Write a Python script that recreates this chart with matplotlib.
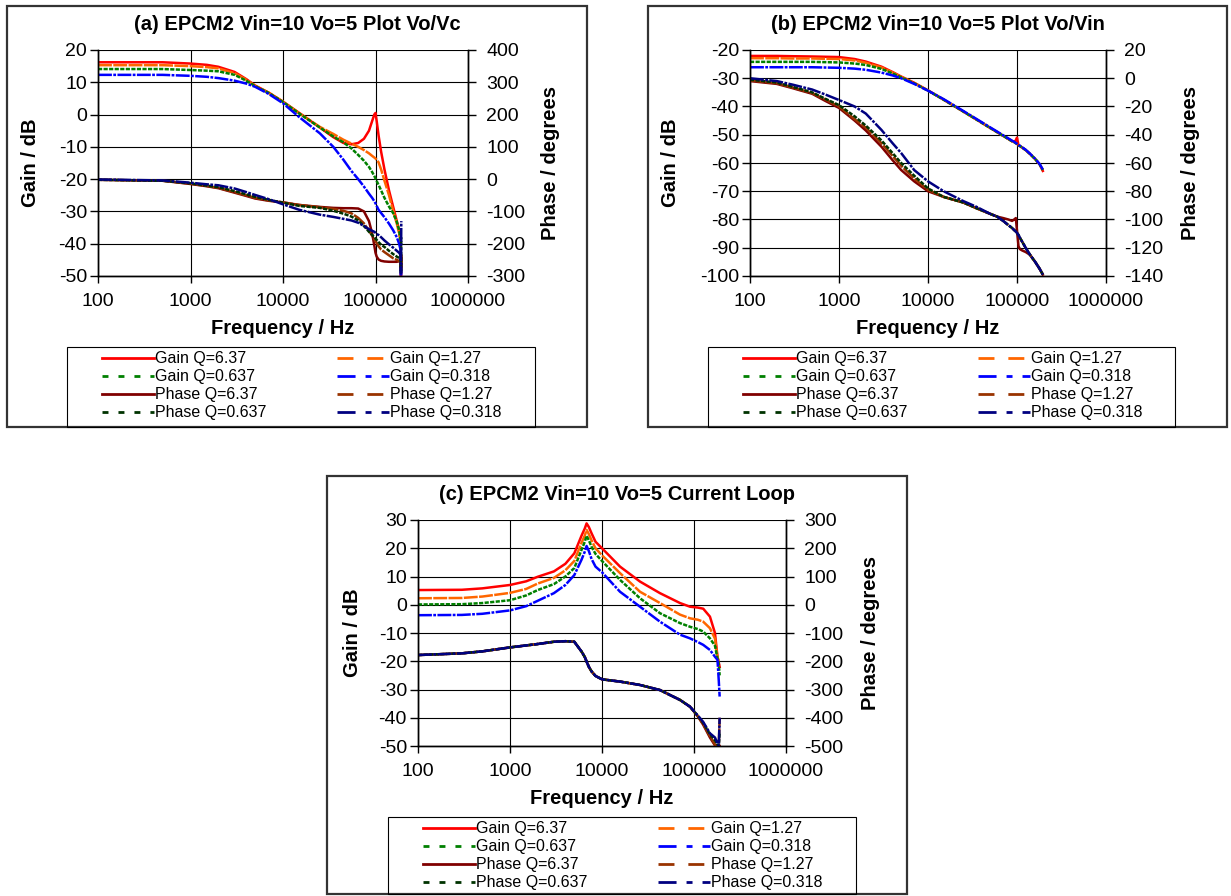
import matplotlib
matplotlib.use('Agg')
import matplotlib.pyplot as plt
from matplotlib.lines import Line2D
from matplotlib.patches import Rectangle
from matplotlib.ticker import NullLocator

plt.rcParams['font.family'] = ['Liberation Sans', 'DejaVu Sans']
plt.rcParams['lines.scale_dashes'] = False
plt.rcParams['axes.unicode_minus'] = False

# ---------------- data ----------------
series_labels = ['Gain Q=6.37', 'Gain Q=1.27', 'Gain Q=0.637', 'Gain Q=0.318',
                 'Phase Q=6.37', 'Phase Q=1.27', 'Phase Q=0.637', 'Phase Q=0.318']
x_ticks = [100, 1000, 10000, 100000, 1000000]
x_ticklabels = ['100', '1000', '10000', '100000', '1000000']

# Panel (a) Vo/Vc
freq_a = [100, 500, 1000, 1500, 2000, 3000, 4000, 5000, 7000, 10000, 15000, 25000, 35000,
          45000, 55000, 65000, 75000, 85000, 92000, 97000, 100000, 103000, 108000, 115000,
          125000, 140000, 155000, 170000, 180000, 187000, 188500, 190000]
gain_a_637 = [16.2, 16.2, 15.8, 15.4, 14.8, 13.2, 11.0, 9.0, 6.8, 4.0, 0.5, -4.0, -7.0, -8.8,
              -9.2, -8.8, -7.5, -5.0, -2.0, 0.0, 0.5, -2.0, -6.5, -11.5, -17.0, -23.5, -28.5,
              -33.0, -35.8, -38.8, -50.0, -45.0]
gain_a_127 = [15.3, 15.3, 15.0, 14.7, 14.3, 12.8, 10.8, 8.9, 6.8, 4.0, 0.4, -3.8, -6.0, -7.8,
              -9.0, -10.0, -11.0, -12.0, -12.8, -13.3, -13.6, -14.0, -14.8, -17.0, -20.5, -25.0,
              -29.8, -33.8, -36.8, -39.5, -48.0, -44.0]
gain_a_0637 = [14.1, 14.1, 13.8, 13.6, 13.4, 12.3, 10.5, 8.8, 6.7, 3.9, 0.3, -4.0, -6.8, -8.6,
               -10.5, -12.5, -14.3, -16.2, -17.8, -19.0, -19.8, -20.6, -21.8, -23.5, -25.8,
               -28.5, -30.5, -33.2, -35.8, -39.0, -49.0, -44.0]
gain_a_0318 = [12.3, 12.3, 12.0, 11.7, 11.3, 10.5, 9.6, 8.6, 6.4, 3.5, -0.8, -5.8, -10.0, -14.0,
               -17.5, -20.0, -22.3, -24.5, -25.8, -26.8, -27.5, -28.3, -29.5, -30.5, -31.8,
               -33.8, -35.8, -38.0, -40.0, -42.0, -50.0, -46.0]
phase_a_637 = [-2, -5, -15, -22, -28, -42, -52, -60, -67, -72, -80, -86, -89, -90, -90, -91,
               -100, -130, -168, -205, -228, -240, -249, -253, -255, -256, -256, -256, -254,
               -250, -275, -240]
phase_a_127 = [-2, -5, -14, -21, -27, -40, -50, -58, -66, -72, -80, -87, -92, -98, -106, -120,
               -137, -160, -175, -186, -192, -198, -208, -218, -226, -236, -245, -250, -254,
               -258, -280, -230]
phase_a_0637 = [-2, -5, -13, -20, -25, -37, -47, -55, -64, -73, -83, -89, -98, -107, -116, -128,
                -145, -163, -173, -180, -184, -188, -195, -203, -210, -222, -232, -240, -244,
                -248, -285, -180]
phase_a_0318 = [-1, -4, -11, -16, -19, -29, -40, -49, -62, -78, -95, -110, -117, -123, -128,
                -135, -145, -155, -160, -163, -166, -170, -173, -180, -190, -202, -212, -222,
                -228, -235, -292, -130]

# Panel (b) Vo/Vin
freq_b = [100, 200, 300, 500, 700, 1000, 1500, 2000, 3000, 4000, 5000, 7000, 10000, 15000,
          25000, 35000, 50000, 60000, 70000, 80000, 88000, 93000, 97000, 100000, 104000,
          108000, 115000, 125000, 140000, 160000, 180000, 195000]
gain_b_637 = [-22.1, -22.1, -22.2, -22.3, -22.4, -22.5, -23.2, -24.1, -25.9, -27.8, -29.4,
              -31.6, -34.3, -37.6, -41.8, -44.6, -47.6, -49.1, -50.4, -51.5, -52.3, -52.4,
              -52.0, -51.0, -53.8, -54.0, -54.6, -55.4, -56.8, -58.6, -60.5, -62.8]
gain_b_127 = [-22.9, -22.9, -23.0, -23.0, -23.1, -23.2, -23.7, -24.5, -26.2, -28.0, -29.5,
              -31.7, -34.3, -37.6, -41.8, -44.6, -47.6, -49.1, -50.4, -51.5, -52.3, -52.6,
              -53.0, -53.3, -53.8, -54.0, -54.6, -55.4, -56.8, -58.6, -60.5, -62.5]
gain_b_0637 = [-24.2, -24.2, -24.2, -24.2, -24.3, -24.4, -24.8, -25.3, -26.7, -28.3, -29.7,
               -31.8, -34.4, -37.6, -41.8, -44.6, -47.6, -49.1, -50.4, -51.5, -52.3, -52.6,
               -53.0, -53.3, -53.8, -54.0, -54.6, -55.4, -56.8, -58.6, -60.5, -62.5]
gain_b_0318 = [-26.1, -26.1, -26.1, -26.1, -26.2, -26.3, -26.6, -27.0, -28.0, -29.0, -30.0,
               -32.0, -34.4, -37.4, -41.6, -44.4, -47.4, -48.9, -50.2, -51.3, -52.1, -52.5,
               -52.9, -53.2, -53.7, -53.9, -54.5, -55.3, -56.7, -58.5, -60.4, -62.3]
phase_b_637 = [-2, -4, -7, -11, -16, -21, -30, -37, -48.5, -58, -65, -73, -80, -84, -88, -92,
               -96, -98, -99, -100, -101, -100, -99, -108, -119, -121, -122, -123, -125, -130,
               -135, -139]
phase_b_127 = [-1.5, -3.5, -6.5, -10.5, -15, -20, -29, -35, -46, -55, -62, -71, -79, -84, -88,
               -92, -96, -98, -101, -104, -106, -107.5, -108.5, -109.5, -111, -113, -116, -120,
               -125, -130, -135, -139]
phase_b_0637 = [-1, -3, -6, -10, -14.5, -19, -27, -33.5, -44, -53, -60, -69, -78, -84, -88,
                -92, -96, -98, -101, -104, -106, -107.5, -108.5, -109.5, -111, -113, -116, -120,
                -125, -130, -135, -139]
phase_b_0318 = [0, -2, -4.5, -8, -11.5, -15.4, -20, -25, -36.6, -46, -53, -65, -73, -80, -87,
                -91, -96, -98, -101, -104, -106, -107.5, -108.5, -109.5, -111, -113, -116, -120,
                -125, -130, -135, -139]

# Panel (c) current loop
freq_c = [100, 300, 500, 1000, 1500, 2000, 3000, 4000, 5000, 6000, 6500, 6800, 7200, 7700,
          8500, 10000, 15700, 25900, 42700, 70500, 90600, 110000, 126000, 149000, 169000,
          180000, 186000, 190000]
gain_c_637 = [5.2, 5.3, 5.8, 7.0, 8.3, 9.9, 11.8, 14.5, 18.2, 24.5, 27.0, 28.8, 27.5, 25.3,
              22.3, 20.0, 13.5, 8.2, 4.1, 0.6, -0.7, -1.0, -1.4, -4.2, -10.0, -18.5, -20.5, -22.0]
gain_c_127 = [2.3, 2.4, 2.9, 4.2, 5.6, 7.5, 9.5, 12.2, 15.5, 22.0, 24.5, 26.5, 25.0, 22.8,
              20.0, 17.5, 11.2, 4.6, 0.6, -3.5, -4.8, -5.3, -6.0, -8.3, -12.0, -18.5, -20.0, -20.0]
gain_c_0637 = [0.1, 0.2, 0.6, 1.6, 3.3, 5.2, 7.3, 10.0, 13.0, 19.5, 22.3, 24.4, 22.8, 20.5,
               18.0, 15.5, 8.8, 2.3, -3.0, -6.5, -7.8, -8.6, -9.5, -11.9, -14.5, -19.0, -21.0, -25.0]
gain_c_0318 = [-3.7, -3.6, -3.2, -2.0, -0.5, 1.4, 4.1, 7.0, 10.5, 16.0, 18.8, 20.8, 19.0, 16.2,
               13.5, 11.5, 4.6, -0.7, -6.0, -10.6, -11.9, -13.2, -14.2, -16.0, -18.4, -19.5,
               -27.0, -32.5]
phase_c_637 = [-178, -172, -165, -151, -144, -139, -131, -129, -131, -166, -185, -201, -220,
               -236, -252, -264, -272, -284, -302, -337, -361, -395, -425, -470, -498, -500,
               -500, -500]
phase_c_127 = [-178, -172, -165, -151, -144, -139, -131, -129, -131, -166, -185, -201, -220,
               -236, -252, -264, -272, -284, -302, -337, -361, -395, -422, -465, -495, -500,
               -498, -400]
phase_c_0637 = [-178, -172, -165, -151, -144, -139, -131, -129, -131, -166, -185, -201, -220,
                -236, -252, -264, -272, -284, -302, -337, -361, -393, -418, -458, -480, -495,
                -500, -450]
phase_c_0318 = [-178, -172, -165, -151, -144, -139, -131, -129, -131, -166, -185, -201, -220,
                -236, -252, -264, -272, -284, -302, -337, -361, -392, -415, -455, -470, -490,
                -500, -400]

# ---------------- styling ----------------
W, H = 1231, 896
fig = plt.figure(figsize=(W / 100, H / 100), dpi=100)

GAIN_COLORS = ['#FF0000', '#FF6600', '#008000', '#0000FF']
PHASE_COLORS = ['#800000', '#993300', '#003300', '#000080']
PLOT_STYLES = ['-', (0, (10, 1)), (0, (3, 1)), (0, (10, 1, 2, 1))]
LEG_STYLES = ['-', (0, (11.5, 10)), (0, (4.3, 7.2)), (0, (13, 7.2, 4.3, 7.2))]
TICK_FS = 14
LABEL_FS = 14.5
TITLE_FS = 14.5
LEG_FS = 11.5


def fx(x):
    return x / W


def fy(y):
    return 1 - y / H


def panel(frame, axbox, title, f, gains, phases, gylim, gyticks, pylim, pyticks,
          gain_lab_x, phase_lab_x, legbox):
    x0, y0, x1, y1 = frame
    fig.add_artist(Rectangle((fx(x0), fy(y1)), (x1 - x0) / W, (y1 - y0) / H,
                             transform=fig.transFigure, fill=False, ec='#333333', lw=1.6))
    ax0, ay0, ax1, ay1 = axbox
    ax = fig.add_axes([fx(ax0), fy(ay1), (ax1 - ax0) / W, (ay1 - ay0) / H])
    ax.set_xscale('log')
    ax.set_xlim(100, 1e6)
    ax2 = ax.twinx()
    for g, c, ls in zip(gains, GAIN_COLORS, PLOT_STYLES):
        ax.plot(f, g, color=c, ls=ls, lw=1.8)
    for p, c, ls in zip(phases, PHASE_COLORS, PLOT_STYLES):
        ax2.plot(f, p, color=c, ls=ls, lw=1.8)
    ax.set_ylim(*gylim)
    ax.set_yticks(gyticks)
    ax2.set_ylim(*pylim)
    ax2.set_yticks(pyticks)
    ax.set_xticks(x_ticks)
    ax.set_xticklabels(x_ticklabels)
    ax.xaxis.set_minor_locator(NullLocator())
    ax.grid(True, which='major', color='black', lw=0.8)
    ax.set_axisbelow(True)
    for a in (ax, ax2):
        a.spines['top'].set_visible(False)
        for s in ('left', 'right', 'bottom'):
            a.spines[s].set_color('black')
            a.spines[s].set_linewidth(1.0)
    ax.tick_params(axis='y', direction='out', length=6, width=1, pad=2, labelsize=TICK_FS)
    ax.tick_params(axis='x', direction='out', length=5, width=1, pad=7, labelsize=TICK_FS)
    ax2.tick_params(axis='y', direction='out', length=6, width=1, pad=7, labelsize=TICK_FS)
    # texts
    cx = (x0 + x1) / 2
    fig.text(fx(cx), fy(y0 + 19), title, ha='center', va='center',
             fontsize=TITLE_FS, fontweight='bold')
    ymid = (ay0 + ay1) / 2
    fig.text(fx(gain_lab_x), fy(ymid), 'Gain / dB', rotation=90, ha='center', va='center',
             fontsize=LABEL_FS, fontweight='bold')
    fig.text(fx(phase_lab_x), fy(ymid), 'Phase / degrees', rotation=90, ha='center',
             va='center', fontsize=LABEL_FS, fontweight='bold')
    fig.text(fx((ax0 + ax1) / 2), fy(ay1 + 52), 'Frequency / Hz', ha='center', va='center',
             fontsize=LABEL_FS, fontweight='bold')
    # legend
    lx0, ly0, lx1, ly1 = legbox
    fig.add_artist(Rectangle((fx(lx0), fy(ly1)), (lx1 - lx0) / W, (ly1 - ly0) / H,
                             transform=fig.transFigure, fill=False, ec='black', lw=0.8))
    rows = [(0, 1), (2, 3), (4, 5), (6, 7)]
    row_off = [11, 29, 47, 65]
    col_off = [35, 270]
    colors = GAIN_COLORS + PHASE_COLORS
    for r, pair in enumerate(rows):
        for c, idx in enumerate(pair):
            hx = lx0 + col_off[c]
            hy = ly0 + row_off[r]
            fig.add_artist(Line2D([fx(hx), fx(hx + 52)], [fy(hy), fy(hy)],
                                  transform=fig.transFigure, color=colors[idx],
                                  ls=LEG_STYLES[idx % 4], lw=2.0))
            fig.text(fx(hx + 53), fy(hy), series_labels[idx], ha='left', va='center',
                     fontsize=LEG_FS)
    return ax, ax2


panel((7, 6, 587, 427), (98, 50, 468, 276), '(a) EPCM2 Vin=10 Vo=5 Plot Vo/Vc', freq_a,
      [gain_a_637, gain_a_127, gain_a_0637, gain_a_0318],
      [phase_a_637, phase_a_127, phase_a_0637, phase_a_0318],
      (-50, 20), list(range(-50, 21, 10)), (-300, 400), list(range(-300, 401, 100)),
      30, 550, (67, 347, 535, 427))

panel((648, 6, 1227, 427), (750, 50, 1106, 276), '(b) EPCM2 Vin=10 Vo=5 Plot Vo/Vin', freq_b,
      [gain_b_637, gain_b_127, gain_b_0637, gain_b_0318],
      [phase_b_637, phase_b_127, phase_b_0637, phase_b_0318],
      (-100, -20), list(range(-100, -19, 10)), (-140, 20), list(range(-140, 21, 20)),
      670, 1190, (708, 347, 1175, 427))

panel((327, 476, 907, 894), (418, 520, 786, 746), '(c) EPCM2 Vin=10 Vo=5 Current Loop', freq_c,
      [gain_c_637, gain_c_127, gain_c_0637, gain_c_0318],
      [phase_c_637, phase_c_127, phase_c_0637, phase_c_0318],
      (-50, 30), list(range(-50, 31, 10)), (-500, 300), list(range(-500, 301, 100)),
      352, 870, (388, 817, 856, 894))

fig.savefig('out.png', dpi=100)
